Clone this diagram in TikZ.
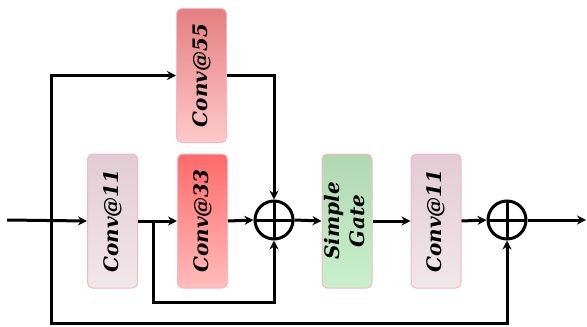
\documentclass[tikz,border=0pt]{standalone}
\usepackage{fontspec}
\setmainfont{DejaVu Serif}
\usetikzlibrary{arrows.meta,calc}
\definecolor{bord}{HTML}{F4B8C2}
\definecolor{gA}{HTML}{E2CBD3}\definecolor{gB}{HTML}{F1E7EA}
\definecolor{fA}{HTML}{E47E80}\definecolor{fB}{HTML}{FFC9C9}
\definecolor{tA}{HTML}{FF6A6A}\definecolor{tB}{HTML}{FFBCBC}
\definecolor{sA}{HTML}{B2D8B2}\definecolor{sB}{HTML}{C8F0CC}
\tikzset{
  blk/.style={rounded corners=5pt, draw=bord, line width=1pt, minimum width=50pt,
    minimum height=134pt, inner sep=0pt, font=\fontsize{20}{23}\selectfont\bfseries\itshape},
  conn/.style={line width=3pt, -{Stealth[length=9pt,width=9pt,inset=3pt]}},
  plus/.style={circle, draw, line width=3pt, minimum size=38pt, inner sep=0pt,
    path picture={\draw[line width=3pt] (path picture bounding box.north) -- (path picture bounding box.south)
      (path picture bounding box.west) -- (path picture bounding box.east);}}
}
\newcommand{\rt}[1]{\rotatebox{90}{#1}}
\begin{document}
\begin{tikzpicture}[x=1pt,y=-1pt]
\useasboundingbox (0,0) rectangle (587,327);
\node[blk, top color=gA, bottom color=gB] (c1) at (112.5,221) {\rt{Conv@11}};
\node[blk, top color=fA, bottom color=fB] (c55) at (201.5,75.5) {\rt{Conv@55}};
\node[blk, top color=tA, bottom color=tB] (c33) at (202.5,221) {\rt{Conv@33}};
\node[plus] (p1) at (274,220) {};
\node[blk, top color=sA, bottom color=sB] (sg) at (347,221) {\rt{\begin{tabular}{@{}c@{}}Simple\\[2pt]Gate\end{tabular}}};
\node[blk, top color=gA, bottom color=gB] (c2) at (436,221) {\rt{Conv@11}};
\node[plus] (p2) at (507,220) {};
\coordinate (in) at (7,220);
\coordinate (s) at (51,220);
\coordinate (sb) at (51,323);
\coordinate (t) at (153,220);
\coordinate (tb) at (153,302);
\coordinate (out) at (586,220);
\draw[conn] (in) -- (c1.west);
\draw[conn] (s) |- (c55.west);
\draw[conn] (s) -- (sb) -| (p2.south);
\draw[conn] (c1.east) -- (c33.west);
\draw[conn] (t) -- (tb) -| (p1.south);
\draw[conn] (c55.east) -| (p1.north);
\draw[conn] (c33.east) -- (p1.west);
\draw[conn] (p1.east) -- (sg.west);
\draw[conn] (sg.east) -- (c2.west);
\draw[conn] (c2.east) -- (p2.west);
\draw[conn] (p2.east) -- (out);
\end{tikzpicture}
\end{document}
